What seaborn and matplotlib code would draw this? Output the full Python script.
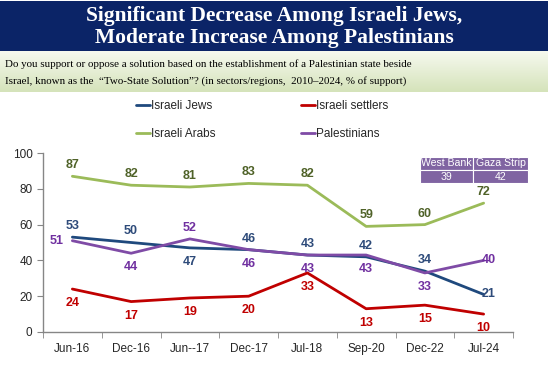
import numpy as np
import pandas as pd
import matplotlib
matplotlib.use("Agg")
import matplotlib.pyplot as plt
import seaborn as sns
from matplotlib.patches import Rectangle

# data
dates = ["Jun-16", "Dec-16", "Jun--17", "Dec-17", "Jul-18", "Sep-20", "Dec-22", "Jul-24"]
israeli_jews = [53, 50, 47, 46, 43, 42, 34, 21]
israeli_settlers = [24, 17, 19, 20, 33, 13, 15, 10]
israeli_arabs = [87, 82, 81, 83, 82, 59, 60, 72]
palestinians = [51, 44, 52, 46, 43, 43, 33, 40]
region_names = ["West Bank", "Gaza Strip"]
region_values = [39, 42]

series = {"Israeli Jews": israeli_jews, "Israeli settlers": israeli_settlers,
          "Israeli Arabs": israeli_arabs, "Palestinians": palestinians}
line_colors = {"Israeli Jews": "#1F497D", "Israeli settlers": "#C00000",
               "Israeli Arabs": "#9BBB59", "Palestinians": "#7F4BA6"}
label_colors = {"Israeli Jews": "#2E4B7A", "Israeli settlers": "#C00000",
                "Israeli Arabs": "#4F6228", "Palestinians": "#7030A0"}
# where each value label sits relative to its point
label_pos = {"Israeli Jews": list("aabaaaar"),
             "Israeli settlers": list("bbbbbbbb"),
             "Israeli Arabs": list("aaaaaaaa"),
             "Palestinians": list("lbabbbbr")}

rows = []
for name, vals in series.items():
    for i, v in enumerate(vals):
        rows.append({"date": i, "value": v, "group": name})
df = pd.DataFrame(rows)

sns.set_style("white")
plt.rcParams["font.family"] = ["Liberation Sans", "DejaVu Sans"]

W, H = 548, 379
fig = plt.figure(figsize=(W / 100, H / 100), dpi=100)

def fx(px):
    return px / W

def fy(py):
    return 1 - py / H

# title band
fig.patches.append(Rectangle((0, fy(51)), 1, 50 / H, transform=fig.transFigure,
                             facecolor="#0B2467", edgecolor="none", zorder=0))
fig.text(0.5, fy(16), "Significant Decrease Among Israeli Jews,", color="white",
         fontsize=15.5, fontweight="bold", family="Liberation Serif", ha="center", va="center")
fig.text(0.5, fy(38), "Moderate Increase Among Palestinians", color="white",
         fontsize=15.5, fontweight="bold", family="Liberation Serif", ha="center", va="center")

# subtitle band with a light green gradient
gax = fig.add_axes([0, fy(92), 1, 41 / H], zorder=0)
top = np.array([0xF6, 0xF9, 0xEF]) / 255
bot = np.array([0xD5, 0xE3, 0xBA]) / 255
t = np.linspace(0, 1, 50)[:, None, None]
grad = top * (1 - t) + bot * t
gax.imshow(np.repeat(grad, 2, axis=1), aspect="auto", extent=[0, 1, 0, 1])
gax.axis("off")
fig.text(fx(5), fy(64), "Do you support or oppose a solution based on the establishment of a Palestinian state beside",
         fontsize=7.9, family="Liberation Serif", ha="left", va="center", color="black")
fig.text(fx(5), fy(81), "Israel, known as the  \u201cTwo-State Solution\u201d? (in sectors/regions,  2010\u20132024, % of support)",
         fontsize=7.9, family="Liberation Serif", ha="left", va="center", color="black")

ax = fig.add_axes([fx(43), fy(332), fx(513) - fx(43), fy(153) - fy(332)])
sns.lineplot(data=df, x="date", y="value", hue="group", palette=line_colors,
             hue_order=list(series.keys()), linewidth=2, ax=ax, legend=False)

off = {"a": (0, 11), "b": (0, -14), "l": (-16, 0), "r": (5, 0)}
for name, vals in series.items():
    for i, v in enumerate(vals):
        dx, dy = off[label_pos[name][i]]
        ax.annotate(str(v), (i, v), xytext=(dx * 0.72, dy * 0.72), textcoords="offset points",
                    ha="center", va="center", fontsize=9, fontweight="bold",
                    color=label_colors[name])

ax.set_xlim(-0.5, len(dates) - 0.5)
ax.set_ylim(0, 100)
ax.set_yticks(range(0, 101, 20))
ax.set_xticks(range(len(dates)))
ax.set_xticklabels(dates)
ax.set_xticks(np.arange(-0.5, len(dates), 1), minor=True)
ax.tick_params(axis="x", which="major", length=0, labelsize=8.5, pad=8)
ax.tick_params(axis="x", which="minor", length=4, color="#868686", direction="out")
ax.tick_params(axis="y", length=4, color="#868686", direction="out", labelsize=8.5)
ax.xaxis.set_ticks_position("bottom")
ax.yaxis.set_ticks_position("left")
ax.set_xlabel("")
ax.set_ylabel("")
for s in ["top", "right"]:
    ax.spines[s].set_visible(False)
for s in ["left", "bottom"]:
    ax.spines[s].set_color("#868686")
    ax.spines[s].set_linewidth(1)

# legend (filled column by column: Jews/Arabs, then settlers/Palestinians)
leg_order = ["Israeli Jews", "Israeli Arabs", "Israeli settlers", "Palestinians"]
handles = [plt.Line2D([], [], color=line_colors[n], lw=2) for n in leg_order]
fig.legend(handles, leg_order, ncol=2, loc="center", bbox_to_anchor=(fx(262), fy(120)),
           frameon=False, fontsize=8.5, handlelength=1.2, handletextpad=0.1,
           columnspacing=7.2, labelspacing=1.35)

# West Bank / Gaza Strip box
cells_x = [420, 473, 528]
for j in range(2):
    for r in range(2):
        y0 = 157 + 13 * r
        fig.patches.append(Rectangle((fx(cells_x[j]), fy(y0 + 13)), (cells_x[j + 1] - cells_x[j]) / W, 13 / H,
                                     transform=fig.transFigure, facecolor="#8064A2",
                                     edgecolor="white", linewidth=0.8, zorder=5))
    cx = fx((cells_x[j] + cells_x[j + 1]) / 2)
    fig.text(cx, fy(163.5), region_names[j], color="white", fontsize=7.6, ha="center", va="center", zorder=6)
    fig.text(cx, fy(176.5), str(region_values[j]), color="white", fontsize=7.6, ha="center", va="center", zorder=6)

fig.savefig("out.png", dpi=100)
